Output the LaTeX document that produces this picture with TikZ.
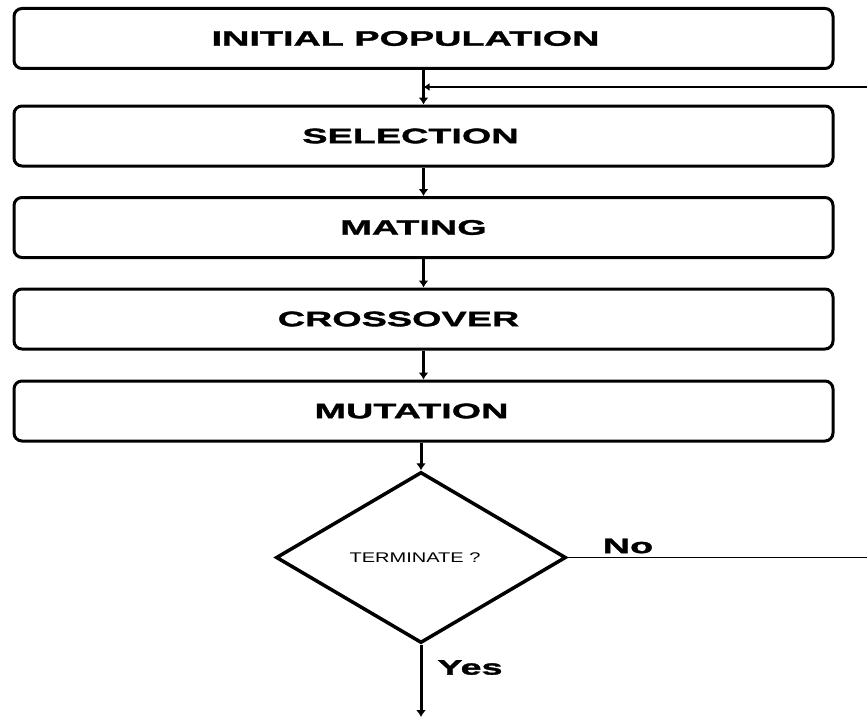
\documentclass[tikz,border=0pt]{standalone}
\usepackage{fontspec}
\usetikzlibrary{shapes.geometric,arrows.meta}
\newfontfamily\flowfont[FakeStretch=1.8,BoldFeatures={FakeBold=1.6}]{Liberation Sans}
\newfontfamily\askfont[FakeStretch=1.43]{Liberation Sans}
\tikzset{
  procbox/.style={draw,line width=3pt,rounded corners=8pt,minimum width=819pt,
    minimum height=60pt,inner sep=0pt,font=\flowfont\bfseries\fontsize{21}{24}\selectfont},
  decision/.style={draw,diamond,line width=3.5pt,minimum width=290pt,minimum height=171pt,
    inner sep=0pt,font=\askfont\fontsize{14}{16}\selectfont},
  flowarrow/.style={line width=3pt,-{Latex[length=7pt,width=10pt]}},
  backline/.style={line width=2pt},
  answer/.style={font=\flowfont\bfseries\fontsize{21}{24}\selectfont}
}
\begin{document}
\begin{tikzpicture}[x=1pt,y=-1pt]
    \useasboundingbox (0,0) rectangle (867,717);
    % steps
    \node[procbox] (init)  at (423.5,38.5) {INITIAL POPULATION\hspace*{36pt}};
    \node[procbox] (sel)   at (423.5,136)  {SELECTION\hspace*{26pt}};
    \node[procbox] (mate)  at (423.5,227.5) {MATING\hspace*{20pt}};
    \node[procbox] (cross) at (423.5,319)  {CROSSOVER\hspace*{50pt}};
    \node[procbox] (mut)   at (423.5,411)  {MUTATION\hspace*{24pt}};
    \node[decision] (term) at (421,557.5)  {TERMINATE ?\hspace*{12pt}};
    % loose ends
    \coordinate (fbin)  at (867,87);
    \coordinate (fbout) at (867,557.5);
    \coordinate (stop)  at (421,717);
    % arrows
    \draw[flowarrow] (init) -- (sel);
    \draw[flowarrow] (sel) -- (mate);
    \draw[flowarrow] (mate) -- (cross);
    \draw[flowarrow] (cross) -- (mut);
    \draw[flowarrow] (mut.south -| term.north) -- (term.north);
    \draw[flowarrow] (term.south) -- (stop);
    % loop back
    \draw[line width=1.5pt] (term.east) -- (fbout);
    \draw[backline,-{Latex[length=6pt,width=8pt]}] (fbin) -- (init.south |- fbin);
    % labels
    \node[answer] (no)  at (628,546)   {No};
    \node[answer] (yes) at (470,667.5) {Yes};
\end{tikzpicture}
\end{document}
